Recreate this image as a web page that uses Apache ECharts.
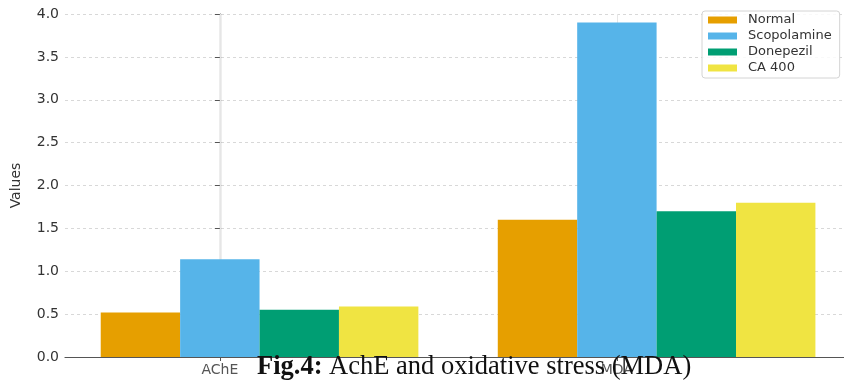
<!DOCTYPE html>
<html>
<head>
<meta charset="utf-8">
<script src="https://cdn.jsdelivr.net/npm/echarts@6/dist/echarts.min.js"></script>
<style>
html,body{margin:0;padding:0;background:#fff;}
#chart{width:844px;height:382px;}
</style>
</head>
<body>
<div id="chart"></div>
<script>
// ---- data ----
const categories = ['AChE', 'MDA'];
const seriesNames = ['Normal', 'Scopolamine', 'Donepezil', 'CA 400'];
const normalValues = [0.52, 1.60];
const scopolamineValues = [1.14, 3.90];
const donepezilValues = [0.55, 1.70];
const ca400Values = [0.59, 1.80];
const yTicks = [0, 0.5, 1.0, 1.5, 2.0, 2.5, 3.0, 3.5, 4.0];
const captionBold = 'Fig.4:';
const captionText = ' AchE and oxidative stress (MDA)';

// ---- styles ----
const colors = ['#E69F00', '#56B4E9', '#009E73', '#F0E442'];
const BAR_W = 0.2;
const allValues = [normalValues, scopolamineValues, donepezilValues, ca400Values];

const chart = echarts.init(document.getElementById('chart'), null, {renderer: 'canvas'});

function makeSeries(i) {
  const offset = (i - 1) * BAR_W;
  return {
    type: 'custom',
    name: seriesNames[i],
    itemStyle: {color: colors[i]},
    encode: {x: 0, y: 1},
    z: 10,
    data: allValues[i].map((v, j) => [j + offset, v]),
    renderItem: function (params, api) {
      const x = api.value(0), v = api.value(1);
      const p0 = api.coord([x - BAR_W / 2, 0]);
      const p1 = api.coord([x + BAR_W / 2, v]);
      return {
        type: 'rect',
        shape: {x: p0[0], y: p1[1], width: p1[0] - p0[0], height: p0[1] - p1[1]},
        style: {fill: colors[i]}
      };
    }
  };
}

const series = [0, 1, 2, 3].map(makeSeries);
// faint vertical grid lines at the category ticks (behind the bars)
series.unshift({
  type: 'line',
  name: '_grid',
  data: [],
  silent: true,
  z: 1,
  markLine: {
    silent: true,
    z: 1,
    symbol: ['none', 'none'],
    label: {show: false},
    animation: false,
    lineStyle: {color: '#e6e6e6', type: 'solid', width: 1},
    data: categories.map((c, j) => ({
      xAxis: j,
      lineStyle: {color: '#e6e6e6', type: 'solid', width: 1}
    }))
  }
});

chart.setOption({
  animation: false,
  backgroundColor: '#fff',
  grid: {left: 65, top: 14, width: 779, height: 343, containLabel: false},
  legend: {
    data: seriesNames,
    orient: 'vertical',
    left: 702,
    top: 11,
    icon: 'rect',
    itemWidth: 29,
    itemHeight: 7,
    itemGap: 2,
    padding: [2, 8, 3, 6],
    backgroundColor: 'rgba(255,255,255,0.85)',
    borderColor: '#d4d4d4',
    borderWidth: 1,
    borderRadius: 3,
    textStyle: {color: '#333', fontSize: 13, fontFamily: 'DejaVu Sans', lineHeight: 14, padding: [0, 0, 0, 6]}
  },
  xAxis: {
    type: 'value',
    min: -0.39,
    max: 1.572,
    axisLine: {show: true, lineStyle: {color: '#555', width: 1.2}},
    axisTick: {show: true, length: 4, lineStyle: {color: '#555'}, customValues: [0, 1]},
    axisLabel: {
      customValues: [0, 1],
      formatter: function (v) { return categories[Math.round(v)] || ''; },
      color: '#555', fontSize: 14, fontFamily: 'DejaVu Sans', margin: 6
    },
    splitLine: {show: false}
  },
  yAxis: {
    type: 'value',
    min: 0,
    max: 4,
    interval: 0.5,
    name: 'Values',
    nameLocation: 'middle',
    nameGap: 42,
    nameTextStyle: {color: '#333', fontSize: 14, fontFamily: 'DejaVu Sans'},
    axisLine: {show: true, lineStyle: {color: '#555', width: 1.2}},
    axisTick: {show: true, length: 5, lineStyle: {color: '#555'}},
    axisLabel: {
      formatter: function (v) { return v.toFixed(1); },
      color: '#333', fontSize: 14, fontFamily: 'DejaVu Sans', margin: 6
    },
    splitLine: {show: true, lineStyle: {color: '#d8d8d8', type: [3, 3], width: 1}}
  },
  graphic: [{
    type: 'text',
    left: 257,
    top: 354,
    z: 100,
    style: {
      text: '{b|' + captionBold + '}' + captionText,
      fontFamily: 'Liberation Serif',
      fontSize: 26.5,
      fill: '#111',
      rich: {b: {fontWeight: 'bold', fontFamily: 'Liberation Serif', fontSize: 26.5, fill: '#111'}}
    }
  }],
  series: series
});
</script>
</body>
</html>
